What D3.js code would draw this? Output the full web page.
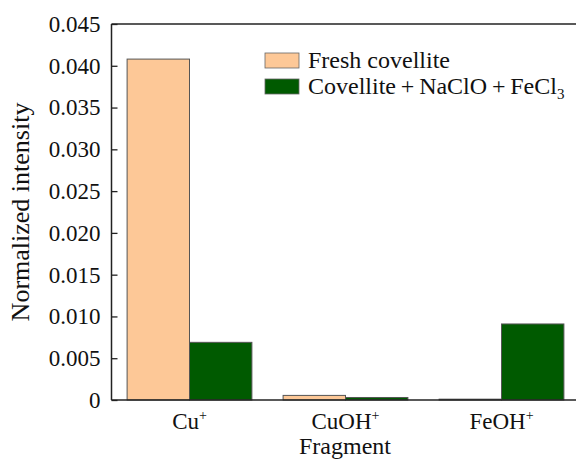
<!DOCTYPE html>
<html>
<head>
<meta charset="utf-8">
<script src="https://cdn.jsdelivr.net/npm/d3@7"></script>
<style>
  html, body { margin: 0; padding: 0; background: #fff; }
  svg { display: block; }
  text { font-family: "Liberation Serif", "Times New Roman", serif; fill: #111; }
</style>
</head>
<body>
<svg id="chart" width="576" height="459"></svg>
<script>
// Fragment intensities, normalized
const fragments = ["Cu", "CuOH", "FeOH"];
const seriesNames = ["Fresh covellite", "Covellite\u2009+\u2009NaClO\u2009+\u2009FeCl"];
const freshValues = [0.0408, 0.00055, 0.0001];
const treatedValues = [0.0069, 0.0003, 0.0091];
const yTicks = [0, 0.005, 0.010, 0.015, 0.020, 0.025, 0.030, 0.035, 0.040, 0.045];

const colors = ["#fdc897", "#005a00"];
const W = 576, H = 459;
const margin = { left: 111.5, top: 24, bottom: 400 };

const svg = d3.select("#chart");

const x = d3.scaleBand().domain(fragments)
  .range([margin.left, margin.left + 468])
  .paddingInner(0.2).paddingOuter(0.1);
const xs = d3.scaleBand().domain([0, 1]).range([0, x.bandwidth()]);
const y = d3.scaleLinear().domain([0, 0.045]).range([margin.bottom, margin.top]);

const series = [freshValues, treatedValues];

// bars
const groups = svg.append("g").selectAll("g")
  .data(fragments).join("g")
  .attr("transform", d => `translate(${x(d)},0)`);

groups.selectAll("rect")
  .data((d, i) => series.map((s, k) => ({ k, v: s[i] })))
  .join("rect")
  .attr("x", d => xs(d.k))
  .attr("width", xs.bandwidth())
  .attr("y", d => y(d.v))
  .attr("height", d => y(0) - y(d.v))
  .attr("fill", d => colors[d.k])
  .attr("stroke", "#555")
  .attr("stroke-width", 1);

// left axis with inward ticks
const yAxis = d3.axisRight(y).tickValues(yTicks).tickSize(6)
  .tickFormat(d => d === 0 ? "0" : d3.format(".3f")(d));
const ya = svg.append("g").attr("transform", `translate(${margin.left},0)`).call(yAxis);
ya.select(".domain").remove();
ya.selectAll(".tick line").attr("stroke", "#222").attr("stroke-width", 1.3);
ya.selectAll(".tick text")
  .attr("x", -11).attr("text-anchor", "end")
  .attr("font-size", 23).attr("font-family", "Liberation Serif").attr("fill", "#111");

// frame lines: left, top, bottom
const frame = svg.append("g").attr("stroke", "#222").attr("stroke-width", 1.5);
frame.append("line").attr("x1", margin.left).attr("x2", margin.left)
  .attr("y1", margin.top).attr("y2", margin.bottom);
frame.append("line").attr("x1", margin.left).attr("x2", W)
  .attr("y1", margin.top).attr("y2", margin.top);
frame.append("line").attr("x1", margin.left).attr("x2", W)
  .attr("y1", margin.bottom).attr("y2", margin.bottom);

// category labels with superscript charge
const xl = svg.append("g").selectAll("text").data(fragments).join("text")
  .attr("x", d => x(d) + x.bandwidth() / 2)
  .attr("y", 429)
  .attr("text-anchor", "middle")
  .attr("font-size", 23);
xl.append("tspan").text(d => d);
xl.append("tspan").text("+").attr("font-size", 14).attr("dy", -9);

// axis titles
svg.append("text").attr("x", 345).attr("y", 454)
  .attr("text-anchor", "middle").attr("font-size", 24).text("Fragment");
svg.append("text")
  .attr("transform", `translate(29,${(margin.top + margin.bottom) / 2}) rotate(-90)`)
  .attr("text-anchor", "middle").attr("font-size", 26).text("Normalized intensity");

// legend
const lg = svg.append("g").attr("transform", "translate(265,53)");
seriesNames.forEach((name, i) => {
  const row = lg.append("g").attr("transform", `translate(0,${i * 26})`);
  row.append("rect").attr("width", 34).attr("height", 15)
    .attr("fill", colors[i]).attr("stroke", "#666").attr("stroke-width", 0.8);
  const t = row.append("text").attr("x", 43).attr("y", 15).attr("font-size", 24);
  t.append("tspan").text(name);
  if (i === 1) t.append("tspan").text("3").attr("font-size", 15).attr("dy", 5);
});
</script>
</body>
</html>
